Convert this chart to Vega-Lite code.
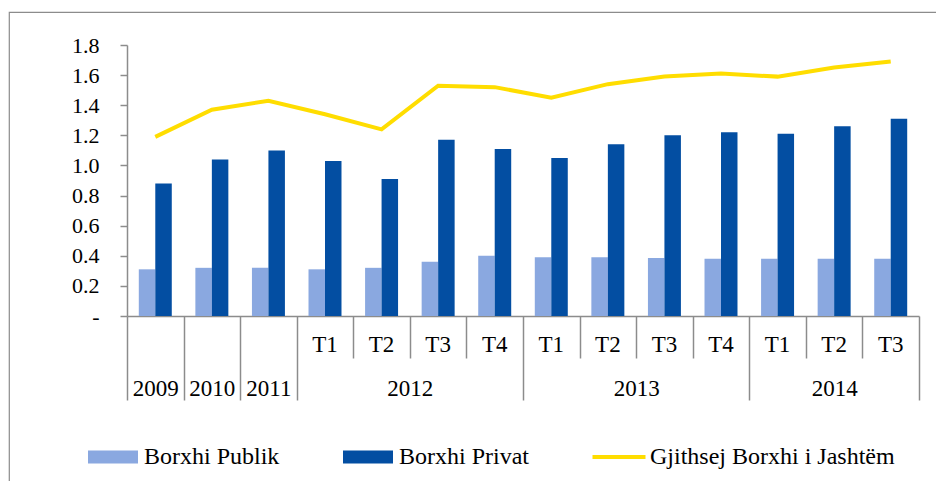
{
  "$schema": "https://vega.github.io/schema/vega-lite/v6.json",
  "autosize": {"type": "none"},
  "padding": {"left": 9, "top": 12, "right": -10, "bottom": -10},
  "width": 937,
  "height": 479,
  "config": {
    "font": "Liberation Serif",
    "view": {"stroke": "#8c8c8c", "strokeWidth": 1.2}
  },
  "data": {
    "values": [
      {"periudha": "2009", "seria": "Borxhi Publik", "vlera": 0.31},
      {"periudha": "2010", "seria": "Borxhi Publik", "vlera": 0.32},
      {"periudha": "2011", "seria": "Borxhi Publik", "vlera": 0.32},
      {"periudha": "2012-T1", "seria": "Borxhi Publik", "vlera": 0.31},
      {"periudha": "2012-T2", "seria": "Borxhi Publik", "vlera": 0.32},
      {"periudha": "2012-T3", "seria": "Borxhi Publik", "vlera": 0.36},
      {"periudha": "2012-T4", "seria": "Borxhi Publik", "vlera": 0.40},
      {"periudha": "2013-T1", "seria": "Borxhi Publik", "vlera": 0.39},
      {"periudha": "2013-T2", "seria": "Borxhi Publik", "vlera": 0.39},
      {"periudha": "2013-T3", "seria": "Borxhi Publik", "vlera": 0.385},
      {"periudha": "2013-T4", "seria": "Borxhi Publik", "vlera": 0.38},
      {"periudha": "2014-T1", "seria": "Borxhi Publik", "vlera": 0.38},
      {"periudha": "2014-T2", "seria": "Borxhi Publik", "vlera": 0.38},
      {"periudha": "2014-T3", "seria": "Borxhi Publik", "vlera": 0.38},
      {"periudha": "2009", "seria": "Borxhi Privat", "vlera": 0.88},
      {"periudha": "2010", "seria": "Borxhi Privat", "vlera": 1.04},
      {"periudha": "2011", "seria": "Borxhi Privat", "vlera": 1.10},
      {"periudha": "2012-T1", "seria": "Borxhi Privat", "vlera": 1.03},
      {"periudha": "2012-T2", "seria": "Borxhi Privat", "vlera": 0.91},
      {"periudha": "2012-T3", "seria": "Borxhi Privat", "vlera": 1.17},
      {"periudha": "2012-T4", "seria": "Borxhi Privat", "vlera": 1.11},
      {"periudha": "2013-T1", "seria": "Borxhi Privat", "vlera": 1.05},
      {"periudha": "2013-T2", "seria": "Borxhi Privat", "vlera": 1.14},
      {"periudha": "2013-T3", "seria": "Borxhi Privat", "vlera": 1.20},
      {"periudha": "2013-T4", "seria": "Borxhi Privat", "vlera": 1.22},
      {"periudha": "2014-T1", "seria": "Borxhi Privat", "vlera": 1.21},
      {"periudha": "2014-T2", "seria": "Borxhi Privat", "vlera": 1.26},
      {"periudha": "2014-T3", "seria": "Borxhi Privat", "vlera": 1.31},
      {"periudha": "2009", "seria": "Gjithsej Borxhi i Jashtëm", "vlera": 1.19},
      {"periudha": "2010", "seria": "Gjithsej Borxhi i Jashtëm", "vlera": 1.37},
      {"periudha": "2011", "seria": "Gjithsej Borxhi i Jashtëm", "vlera": 1.43},
      {"periudha": "2012-T1", "seria": "Gjithsej Borxhi i Jashtëm", "vlera": 1.34},
      {"periudha": "2012-T2", "seria": "Gjithsej Borxhi i Jashtëm", "vlera": 1.24},
      {"periudha": "2012-T3", "seria": "Gjithsej Borxhi i Jashtëm", "vlera": 1.53},
      {"periudha": "2012-T4", "seria": "Gjithsej Borxhi i Jashtëm", "vlera": 1.52},
      {"periudha": "2013-T1", "seria": "Gjithsej Borxhi i Jashtëm", "vlera": 1.45},
      {"periudha": "2013-T2", "seria": "Gjithsej Borxhi i Jashtëm", "vlera": 1.54},
      {"periudha": "2013-T3", "seria": "Gjithsej Borxhi i Jashtëm", "vlera": 1.59},
      {"periudha": "2013-T4", "seria": "Gjithsej Borxhi i Jashtëm", "vlera": 1.61},
      {"periudha": "2014-T1", "seria": "Gjithsej Borxhi i Jashtëm", "vlera": 1.59},
      {"periudha": "2014-T2", "seria": "Gjithsej Borxhi i Jashtëm", "vlera": 1.65},
      {"periudha": "2014-T3", "seria": "Gjithsej Borxhi i Jashtëm", "vlera": 1.69}
    ]
  },
  "resolve": {"scale": {"x": "independent"}, "axis": {"x": "independent"}},
  "layer": [
    {
      "transform": [{"filter": "datum.seria !== 'Gjithsej Borxhi i Jashtëm'"}],
      "mark": {"type": "bar"},
      "encoding": {
        "x": {
          "field": "periudha",
          "type": "nominal",
          "scale": {
            "domain": ["2009", "2010", "2011", "2012-T1", "2012-T2", "2012-T3", "2012-T4", "2013-T1", "2013-T2", "2013-T3", "2013-T4", "2014-T1", "2014-T2", "2014-T3"],
            "range": [118, 910],
            "paddingInner": 0.417,
            "paddingOuter": 0.2085
          },
          "axis": {
            "orient": "bottom",
            "offset": -175,
            "title": null,
            "domain": true,
            "domainColor": "#8c8c8c",
            "domainWidth": 1.5,
            "ticks": false,
            "tickSize": 0,
            "labelAngle": 0,
            "labelExpr": "datum.value && indexof(datum.value, '-') > 0 ? split(datum.value, '-')[1] : ''",
            "labelPadding": 28,
            "labelBaseline": "middle",
            "labelFont": "Liberation Serif",
            "labelFontSize": 23,
            "labelColor": "#000000",
            "labelOverlap": false
          }
        },
        "xOffset": {"field": "seria", "type": "nominal", "scale": {"domain": ["Borxhi Publik", "Borxhi Privat"], "paddingInner": 0}},
        "y": {
          "field": "vlera",
          "type": "quantitative",
          "scale": {"domain": [0, 1.8], "range": [304, 33], "nice": false, "zero": true},
          "axis": {
            "orient": "left",
            "offset": -118,
            "title": null,
            "values": [0, 0.2, 0.4, 0.6, 0.8, 1.0, 1.2, 1.4, 1.6, 1.8],
            "labelExpr": "datum.value === 0 ? '-\u00a0\u00a0' : format(datum.value, '.1f')",
            "grid": false,
            "domainColor": "#8c8c8c",
            "domainWidth": 1.5,
            "tickColor": "#8c8c8c",
            "tickWidth": 1.5,
            "tickSize": 7,
            "labelPadding": 21,
            "labelFont": "Liberation Serif",
            "labelFontSize": 22,
            "labelColor": "#000000",
            "labelOverlap": false
          }
        },
        "color": {
          "field": "seria",
          "type": "nominal",
          "scale": {
            "domain": ["Borxhi Publik", "Borxhi Privat", "Gjithsej Borxhi i Jashtëm"],
            "range": ["#8aa8e0", "#034ea2", "#ffdd00"]
          },
          "legend": {
            "orient": "none",
            "legendX": 79,
            "legendY": 420,
            "direction": "horizontal",
            "title": null,
            "padding": 0,
            "symbolSize": 2500,
            "symbolStrokeWidth": 4,
            "labelFont": "Liberation Serif",
            "labelFontSize": 24,
            "labelColor": "#000000",
            "labelOffset": 6,
            "labelLimit": 400,
            "columnPadding": 63,
            "encode": {
              "symbols": {
                "update": {
                  "shape": [
                    {"test": "datum.value === 'Gjithsej Borxhi i Jashtëm'", "value": "M-1.06,-0.08H1.06V0.08H-1.06Z"},
                    {"value": "M-1,-0.26H1V0.26H-1Z"}
                  ],
                  "fill": {"scale": "color", "field": "value"},
                  "stroke": {"value": "transparent"},
                  "strokeWidth": {"value": 0},
                  "opacity": {"value": 1}
                }
              }
            }
          }
        }
      }
    },
    {
      "transform": [{"filter": "datum.seria === 'Gjithsej Borxhi i Jashtëm'"}],
      "mark": {"type": "line", "strokeWidth": 4},
      "encoding": {
        "x": {
          "field": "periudha",
          "type": "nominal",
          "scale": {
            "domain": ["2009", "2010", "2011", "2012-T1", "2012-T2", "2012-T3", "2012-T4", "2013-T1", "2013-T2", "2013-T3", "2013-T4", "2014-T1", "2014-T2", "2014-T3"],
            "range": [118, 910],
            "paddingInner": 0,
            "paddingOuter": 0
          },
          "axis": {
            "orient": "bottom",
            "offset": -175,
            "title": null,
            "domain": false,
            "tickBand": "extent",
            "tickColor": "#8c8c8c",
            "tickWidth": 1.5,
            "tickSize": {
              "condition": {"test": "!datum.value || indexof(['2009', '2010', '2011', '2012-T4', '2013-T4', '2014-T3'], datum.value) >= 0", "value": 84},
              "value": 42
            },
            "labelAngle": 0,
            "labelExpr": "!datum.value ? '' : datum.value === '2012-T2' ? '2012' : datum.value === '2013-T2' ? '2013' : datum.value === '2014-T2' ? '2014' : indexof(datum.value, '-') < 0 ? datum.value : ''",
            "labelPadding": {
              "condition": {"test": "!datum.value || indexof(['2009', '2010', '2011', '2012-T4', '2013-T4', '2014-T3'], datum.value) >= 0", "value": -12},
              "value": 30
            },
            "labelOffset": {
              "condition": {"test": "datum.value === '2012-T2' || datum.value === '2013-T2'", "value": 28.29},
              "value": 0
            },
            "labelBaseline": "middle",
            "labelFont": "Liberation Serif",
            "labelFontSize": 23,
            "labelColor": "#000000",
            "labelOverlap": false
          }
        },
        "y": {"field": "vlera", "type": "quantitative"},
        "color": {"field": "seria", "type": "nominal"}
      }
    }
  ]
}
